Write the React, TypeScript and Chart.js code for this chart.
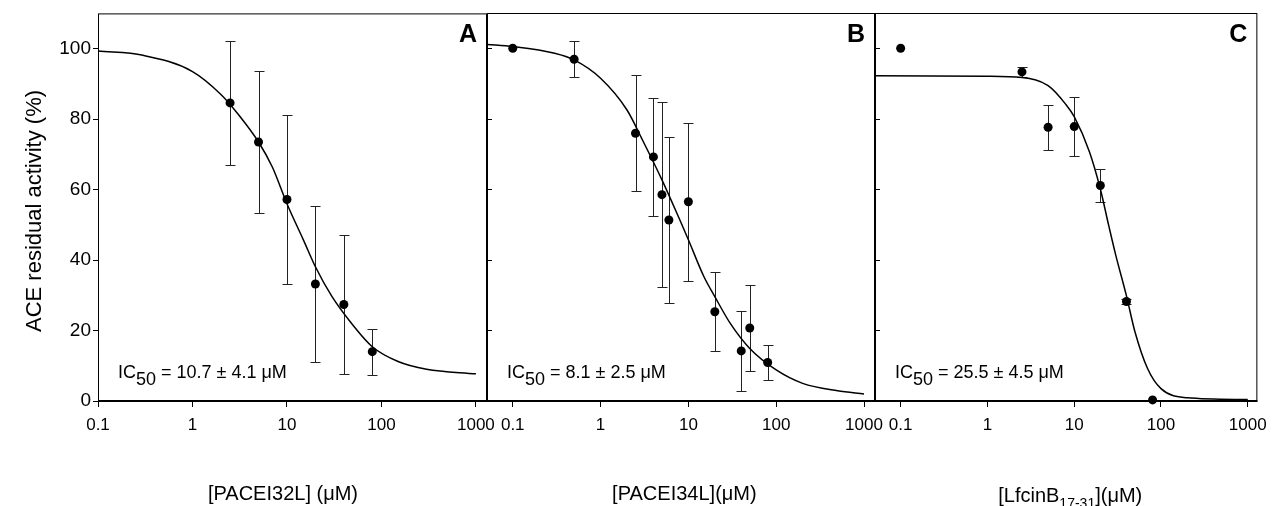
import React, { useEffect, useRef } from "react";
import { Chart, registerables } from "chart.js";

Chart.register(...registerables);

// ---------- data ----------
const X_TICKS = [0.1, 1, 10, 100, 1000];
const Y_TICKS = [0, 20, 40, 60, 80, 100];

// Panel A – PACEI32L
const concA = [2.5, 5, 10, 20, 40, 80];
const actA = [84.6, 73.5, 57.2, 33.2, 27.4, 14.0];
const errA = [17.7, 20.1, 24.1, 22.1, 19.7, 6.5];
const fitXA = [0.1, 0.3, 1, 2, 3, 5, 7, 10, 15, 20, 30, 50, 80, 150, 300, 1000];
const fitYA = [99.3, 98.1, 93.5, 87.0, 81.6, 73.5, 66.4, 56.0, 45.6, 38.1, 29.6, 21.5, 15.4, 11.2, 9.0, 7.7];

// Panel B – PACEI34L
const concB = [0.1, 0.5, 2.5, 4, 5, 6, 10, 20, 40, 50, 80];
const actB = [100, 96.9, 75.9, 69.2, 58.5, 51.3, 56.5, 25.3, 14.2, 20.7, 10.9];
const errB = [0, 5.1, 16.5, 16.7, 26.2, 23.5, 22.4, 11.2, 11.3, 12.2, 4.9];
const fitXB = [0.051, 0.1, 0.3, 0.5, 1, 2, 3, 5, 8, 10, 15, 20, 30, 50, 100, 200, 500, 1000];
const fitYB = [101.1, 100.5, 98.6, 96.7, 91.5, 82.5, 74.0, 62.7, 51.3, 45.7, 35.3, 29.6, 22.0, 14.9, 8.8, 5.0, 2.9, 2.0];

// Panel C – LfcinB17-31
const concC = [0.1, 2.5, 5, 10, 20, 40, 80];
const actC = [100, 93.3, 77.6, 77.8, 61.1, 28.2, 0.3];
const errC = [0, 1.5, 6.4, 8.3, 4.8, 0.8, 0];
const fitXC = [0.051, 1, 2.5, 5, 8, 10, 15, 20, 25, 30, 40, 50, 70, 100, 200, 1000];
const fitYC = [92.2, 92.1, 91.7, 89.4, 84.1, 80.6, 70.6, 60.1, 49.7, 41.5, 29.8, 19.7, 9.2, 3.5, 0.9, 0.4];

const IC50_TEXTS = ["= 10.7 \u00B1 4.1 \u03BCM", "= 8.1 \u00B1 2.5 \u03BCM", "= 25.5 \u00B1 4.5 \u03BCM"];
const PANEL_LETTERS = ["A", "B", "C"];
const Y_TITLE = "ACE residual activity (%)";

// ---------- layout ----------
const W = 1275;
const H = 506;
const FONT = "'Liberation Sans', Arial, Helvetica, sans-serif";

type Panel = {
  conc: number[];
  act: number[];
  err: number[];
  fitX: number[];
  fitY: number[];
  xMin: number;
  xMax: number;
  left: number;
  right: number;
  letter: string;
  ic50: string;
  titleMain: string;
  titleSub: string;
  titleTail: string;
  first: boolean;
};

const PANELS: Panel[] = [
  {
    conc: concA, act: actA, err: errA, fitX: fitXA, fitY: fitYA,
    xMin: 0.1, xMax: 1310, left: 98, right: 487,
    letter: PANEL_LETTERS[0], ic50: IC50_TEXTS[0],
    titleMain: "[PACEI32L] (\u03BCM)", titleSub: "", titleTail: "", first: true,
  },
  {
    conc: concB, act: actB, err: errB, fitX: fitXB, fitY: fitYB,
    xMin: 0.0509, xMax: 1334, left: 487, right: 875,
    letter: PANEL_LETTERS[1], ic50: IC50_TEXTS[1],
    titleMain: "[PACEI34L](\u03BCM)", titleSub: "", titleTail: "", first: false,
  },
  {
    conc: concC, act: actC, err: errC, fitX: fitXC, fitY: fitYC,
    xMin: 0.0506, xMax: 1290, left: 875, right: 1262,
    letter: PANEL_LETTERS[2], ic50: IC50_TEXTS[2],
    titleMain: "[LfcinB", titleSub: "17-31", titleTail: "](\u03BCM)", first: false,
  },
];

const TOP = 13;
const BOTTOM = 401;
const Y_AXIS_W = 60;

function PanelChart({ p }: { p: Panel }) {
  const ref = useRef<HTMLCanvasElement>(null);

  useEffect(() => {
    const canvas = ref.current;
    if (!canvas) return;

    const decor = {
      id: "decor" + p.letter,
      beforeDatasetsDraw(chart: any) {
        const { ctx, scales } = chart;
        const xs = scales.x;
        const ys = scales.y;
        ctx.save();
        // error bars
        ctx.strokeStyle = "#222";
        ctx.lineWidth = 1;
        for (let i = 0; i < p.conc.length; i++) {
          if (!p.err[i]) continue;
          const x = Math.round(xs.getPixelForValue(p.conc[i])) + 0.5;
          const yt = Math.round(ys.getPixelForValue(p.act[i] + p.err[i])) + 0.5;
          const yb = Math.round(ys.getPixelForValue(p.act[i] - p.err[i])) + 0.5;
          ctx.beginPath();
          ctx.moveTo(x, yt);
          ctx.lineTo(x, yb);
          ctx.moveTo(x - 5, yt);
          ctx.lineTo(x + 5, yt);
          ctx.moveTo(x - 5, yb);
          ctx.lineTo(x + 5, yb);
          ctx.stroke();
        }
        ctx.restore();
      },
      afterDraw(chart: any) {
        const { ctx, chartArea, scales } = chart;
        const xs = scales.x;
        const ys = scales.y;
        const { left, right, top, bottom } = chartArea;
        ctx.save();
        // frame
        ctx.strokeStyle = "#000";
        ctx.lineWidth = 1;
        ctx.strokeRect(left + 0.5, top + 0.5, right - left - 1, bottom - top);
        ctx.lineWidth = 2;
        ctx.beginPath();
        ctx.moveTo(left, bottom);
        ctx.lineTo(right, bottom);
        ctx.stroke();
        // inner y ticks for panels B and C
        if (!p.first) {
          ctx.lineWidth = 1;
          ctx.beginPath();
          for (const v of Y_TICKS) {
            const y = Math.round(ys.getPixelForValue(v)) + 0.5;
            ctx.moveTo(left, y);
            ctx.lineTo(left + 5, y);
          }
          ctx.stroke();
        }
        ctx.fillStyle = "#000";
        // panel letter
        ctx.font = `bold 25px ${FONT}`;
        ctx.textAlign = "right";
        ctx.textBaseline = "alphabetic";
        ctx.fillText(p.letter, right - 10, 42);
        // IC50 annotation
        ctx.font = `18px ${FONT}`;
        ctx.textAlign = "left";
        let tx = left + 20;
        ctx.fillText("IC", tx, 378);
        tx += ctx.measureText("IC").width;
        ctx.fillText("50", tx, 385);
        tx += ctx.measureText("50").width + 5;
        ctx.fillText(p.ic50, tx, 378);
        // axis title
        const cx = (xs.getPixelForValue(0.1) + xs.getPixelForValue(1000)) / 2 - 4;
        ctx.font = `20px ${FONT}`;
        if (!p.titleSub) {
          ctx.textAlign = "center";
          ctx.fillText(p.titleMain, cx, 500);
        } else {
          const w1 = ctx.measureText(p.titleMain).width;
          ctx.font = `14px ${FONT}`;
          const w2 = ctx.measureText(p.titleSub).width;
          ctx.font = `20px ${FONT}`;
          const w3 = ctx.measureText(p.titleTail).width;
          let sx = cx - (w1 + w2 + w3) / 2;
          ctx.textAlign = "left";
          ctx.fillText(p.titleMain, sx, 502);
          sx += w1;
          ctx.font = `14px ${FONT}`;
          ctx.fillText(p.titleSub, sx, 508);
          sx += w2;
          ctx.font = `20px ${FONT}`;
          ctx.fillText(p.titleTail, sx, 502);
        }
        // y title
        if (p.first) {
          ctx.save();
          ctx.translate(35, 211);
          ctx.rotate(-Math.PI / 2);
          ctx.font = `22px ${FONT}`;
          ctx.textAlign = "center";
          ctx.textBaseline = "middle";
          ctx.fillText(Y_TITLE, 0, 0);
          ctx.restore();
        }
        ctx.restore();
      },
    };

    const chart = new Chart(canvas, {
      type: "scatter",
      data: {
        datasets: [
          {
            label: "fit",
            data: p.fitX.map((x, i) => ({ x, y: p.fitY[i] })),
            showLine: true,
            borderColor: "#000",
            borderWidth: 1.5,
            pointRadius: 0,
            cubicInterpolationMode: "monotone",
            fill: false,
            order: 2,
          } as any,
          {
            label: "data",
            data: p.conc.map((x, i) => ({ x, y: p.act[i] })),
            backgroundColor: "#000",
            borderColor: "#000",
            pointRadius: 4.5,
            pointBorderWidth: 0,
            clip: false,
            order: 1,
          } as any,
        ],
      },
      options: {
        responsive: false,
        devicePixelRatio: 1,
        animation: false,
        events: [],
        layout: {
          padding: {
            left: p.first ? p.left - Y_AXIS_W : p.left,
            right: W - p.right,
            top: TOP,
            bottom: 0,
          },
        },
        plugins: {
          legend: { display: false },
          tooltip: { enabled: false },
          title: { display: false },
        },
        scales: {
          x: {
            type: "logarithmic",
            position: "bottom",
            min: p.xMin,
            max: p.xMax,
            afterBuildTicks: (s: any) => {
              s.ticks = X_TICKS.map((v) => ({ value: v }));
            },
            afterFit: (s: any) => {
              s.height = H - BOTTOM;
            },
            ticks: {
              autoSkip: false,
              maxRotation: 0,
              padding: 8,
              color: "#000",
              font: { family: FONT, size: 17 },
              callback: (v: any) => String(v),
            },
            grid: {
              display: true,
              drawOnChartArea: false,
              drawTicks: true,
              tickLength: 6,
              color: "#000",
            },
            border: { display: false },
          },
          y: {
            type: "linear",
            display: p.first,
            min: 0,
            max: 110,
            afterBuildTicks: (s: any) => {
              s.ticks = Y_TICKS.map((v) => ({ value: v }));
            },
            afterFit: (s: any) => {
              s.width = p.first ? Y_AXIS_W : 0;
            },
            ticks: {
              padding: 2,
              color: "#000",
              font: { family: FONT, size: 19 },
            },
            grid: {
              display: true,
              drawOnChartArea: false,
              drawTicks: true,
              tickLength: 5,
              color: "#000",
            },
            border: { display: false },
          },
        },
      } as any,
      plugins: [decor],
    });

    return () => chart.destroy();
  }, [p]);

  return (
    <canvas
      ref={ref}
      width={W}
      height={H}
      style={{ position: "absolute", left: 0, top: 0, width: W, height: H }}
    />
  );
}

export default function App() {
  return (
    <div
      style={{
        position: "absolute",
        left: 0,
        top: 0,
        width: W,
        height: H,
        background: "#fff",
        overflow: "hidden",
      }}
    >
      {PANELS.map((p) => (
        <PanelChart key={p.letter} p={p} />
      ))}
    </div>
  );
}
